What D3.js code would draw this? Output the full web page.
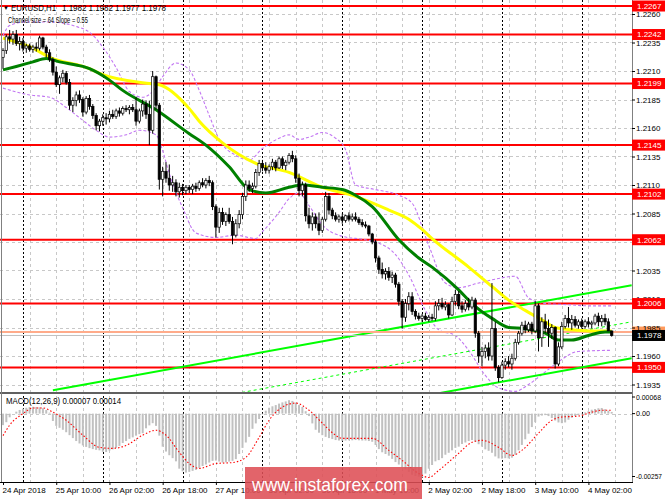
<!DOCTYPE html>
<html>
<head>
<meta charset="utf-8">
<script src="https://cdn.jsdelivr.net/npm/d3@7/dist/d3.min.js"></script>
<style>
  body { margin: 0; background: #fff; }
  svg { display: block; font-family: 'Liberation Sans', Arial, sans-serif; }
  .axis text { font-size: 8px; fill: #000; }
  .axis path { display: none; }
  .axis line { stroke: #000; }
</style>
</head>
<body>
<div class="chart"></div>
<script>
// EURUSD H1, 24 Apr 18:00 .. 4 May 09:00
// candle prices are pips above 1.1900 (322 -> 1.2222)
const BASE = 1.19;

const opens = [
  322,328,340,338,342,334,336,330,332,329,331,330,339,331,326,320,
  309,298,304,308,300,280,284,289,285,274,286,279,271,262,266,269,
  268,272,270,275,273,277,276,278,276,266,275,281,272,258,305,280,
  215,222,216,210,212,204,208,205,208,206,209,207,212,210,214,212,
  191,173,186,178,184,178,166,176,184,200,210,207,209,221,229,225,
  223,226,230,225,233,227,230,236,233,216,205,210,183,176,182,176,
  170,180,200,188,183,180,182,179,183,180,182,180,177,175,174,167,
  160,146,136,132,134,129,131,123,108,94,106,112,99,95,93,95,
  92,94,93,104,106,103,105,96,108,114,104,101,106,103,109,80,
  60,64,67,60,84,50,41,52,55,53,58,72,80,87,83,88,
  82,104,76,90,84,80,85,53,68,86,93,89,92,87,90,86,
  90,88,89,95,90,93,90,82
];
const highs = [
  330,342,346,345,346,340,339,334,334,333,335,341,340,333,329,322,
  314,306,311,310,303,287,292,293,287,288,289,281,273,268,272,273,
  275,276,277,278,279,280,280,281,287,277,285,284,284,310,306,282,
  226,230,228,218,215,212,211,210,210,211,212,214,216,216,218,214,
  193,190,190,186,190,182,180,188,203,214,214,212,224,232,232,230,
  228,233,232,235,235,232,238,240,236,220,213,212,190,186,185,186,
  182,204,203,190,186,184,185,184,186,185,186,182,180,178,175,168,
  162,148,142,137,138,134,133,125,110,110,116,116,101,98,97,98,
  96,97,108,110,111,108,106,112,118,117,108,109,111,112,111,82,
  68,70,72,124,90,52,55,58,60,62,75,82,90,91,90,90,
  108,106,94,97,92,88,86,72,90,96,103,96,95,92,93,92,
  94,91,97,98,96,97,93,82
];
const lows = [
  312,325,334,333,332,328,327,326,327,326,327,328,329,322,318,306,
  296,290,300,298,276,274,279,282,270,272,276,268,258,257,262,263,
  265,268,268,270,271,274,272,274,262,264,270,268,245,255,276,206,
  200,212,205,204,200,199,201,202,203,202,204,205,208,207,209,188,
  164,168,175,174,176,158,164,172,180,196,204,203,207,218,222,220,
  220,223,222,224,224,223,228,230,212,200,200,178,172,170,172,166,
  168,178,184,180,178,177,176,177,178,178,178,175,173,172,165,158,
  142,132,128,127,126,124,120,104,84,90,100,96,92,91,90,91,
  90,91,91,100,101,100,93,95,104,101,98,99,100,101,76,54,
  51,58,56,56,47,37,40,48,50,48,56,70,78,80,81,79,
  80,64,68,80,68,75,49,51,66,84,85,83,85,84,84,84,
  85,84,87,86,86,87,82,77
];
const closes = [
  328,340,338,342,334,336,330,332,329,331,330,339,331,326,320,309,
  298,304,308,300,280,284,289,285,274,286,279,271,262,266,269,268,
  272,270,275,273,277,276,278,276,266,275,281,272,258,305,280,215,
  222,216,210,212,204,208,205,208,206,209,207,212,210,214,212,191,
  173,186,178,184,178,166,176,184,200,210,207,209,221,229,225,223,
  226,230,225,233,227,230,236,233,216,205,210,183,176,182,176,170,
  180,200,188,183,180,182,179,183,180,182,180,177,175,174,167,160,
  146,136,132,134,129,131,123,108,94,106,112,99,95,93,95,92,
  94,93,104,106,103,105,96,108,114,104,101,106,103,109,80,60,
  64,67,60,84,50,41,52,55,53,58,72,80,87,83,88,82,
  104,76,90,84,80,85,53,68,86,93,89,92,87,90,86,90,
  88,89,95,90,93,90,82,78
];

// indicator lines: [bar, pips above 1.1900]
const maYellow = [[0,339],[9,330],[14,322],[24,314],[26,312],[29,308],[44,299],[47,298],[56,277],[59,266],
  [66,247],[76,229],[86,221],[96,208],[106,200],[116,188],[122,180],[126,171],[129,163],[140,138],
  [147,121],[152,109],[157,100],[163,90],[166,85],[171,83],[176,82],[183,82]];
const maGreen = [[0,311],[4,314],[9,318],[13,321],[17,318],[24,314],[26,312],[32,302],[36,293],[46,276],
  [56,255],[61,245],[68,226],[74,206],[79,203],[86,208],[90,210],[96,208],[102,206],[106,201],
  [111,191],[119,162],[125,146],[129,138],[137,118],[141,106],[147,93],[152,85],[157,84],[163,80],
  [167,74],[171,74],[176,78],[181,81],[183,81]];
const bandUpper = [[0,341],[2,350],[7,353],[14,353],[22,349],[26,344],[30,331],[34,313],[38,292],[42,287],
  [45,292],[48,305],[52,317],[56,311],[59,293],[62,271],[65,250],[70,236],[74,232],[78,242],
  [83,251],[86,254],[89,250],[92,252],[96,256],[100,251],[103,241],[106,210],[112,206],[119,201],
  [123,194],[128,157],[133,124],[137,120],[143,124],[149,128],[154,130],[158,111],[163,106],[170,105],
  [176,104],[183,104]];
const bandLower = [[0,295],[8,289],[14,287],[19,278],[23,269],[28,258],[32,252],[37,254],[41,258],[46,254],
  [48,240],[50,220],[54,190],[58,168],[64,164],[70,166],[76,163],[78,169],[83,186],[86,198],
  [89,203],[92,192],[96,175],[102,165],[109,162],[113,159],[118,149],[122,131],[127,100],[131,83],
  [136,78],[140,65],[145,43],[149,32],[154,29],[158,35],[163,46],[167,55],[173,64],[183,65]];

// linear regression channel
const channelBars = [15, 189];
const channelMid = [1.1898, 1.1990];
const channelHalf = 0.0032;

const levels = [1.2267, 1.2242, 1.2199, 1.2145, 1.2102, 1.2062, 1.2006, 1.1950];
const bidPrice = 1.1978;
const askPrice = 1.1981;
const priceTicks = [1.2260, 1.2235, 1.2210, 1.2185, 1.2160, 1.2135, 1.2110, 1.2085,
  1.2060, 1.2035, 1.2010, 1.1985, 1.1960, 1.1935];

const timeTickBars = [0, 16, 32, 48, 64, 80, 96, 112, 128, 144, 160, 176];
const timeLabels = ["24 Apr 2018", "25 Apr 10:00", "26 Apr 02:00", "26 Apr 18:00", "27 Apr 10:00",
  "30 Apr 02:00", "30 Apr 18:00", "1 May 10:00", "2 May 02:00", "2 May 18:00", "3 May 10:00", "4 May 02:00"];
const daySepBars = [6, 30, 54, 78, 102, 126, 150, 174];

// MACD(12,26,9), units of 0.00001
const macdHist = [
  -47,-35,-15,0,8,15,20,24,27,28,27,26,22,15,4,-30,
  -50,-58,-66,-76,-88,-100,-112,-122,-130,-136,-141,-145,-148,-150,-156,-157,
  -151,-146,-140,-132,-120,-112,-103,-97,-90,-84,-80,-60,-48,-39,-50,-90,
  -135,-155,-170,-182,-195,-225,-236,-241,-238,-234,-230,-222,-214,-208,-200,-193,
  -192,-196,-200,-199,-196,-193,-186,-165,-140,-118,-95,-62,-40,-22,-3,12,
  24,30,35,41,46,50,55,52,45,35,27,10,-10,-40,-66,-78,
  -88,-95,-100,-104,-108,-110,-111,-110,-109,-109,-108,-109,-110,-110,-112,-115,
  -128,-145,-158,-165,-172,-185,-198,-208,-220,-228,-238,-250,-255,-258,-261,-245,
  -225,-210,-195,-190,-182,-168,-160,-150,-140,-135,-124,-118,-112,-108,-115,-125,
  -135,-146,-152,-160,-175,-183,-184,-182,-183,-180,-168,-150,-128,-105,-82,-55,
  -35,-12,-8,-6,-10,-18,-28,-36,-39,-36,-25,-17,-10,-6,-3,5,
  10,16,19,22,23,18,12,7
];
const macdSignal = [[0,-90],[2,-47],[6,0],[9,23],[12,23],[15,6],[19,-27],[24,-88],[29,-138],[33,-142],
  [37,-130],[42,-88],[46,-68],[49,-88],[53,-158],[56,-204],[59,-224],[64,-204],[69,-200],[73,-179],
  [77,-97],[80,-27],[84,27],[88,43],[92,14],[96,-39],[99,-78],[102,-101],[111,-101],[116,-150],
  [120,-191],[125,-245],[128,-261],[131,-232],[137,-162],[141,-117],[144,-109],[149,-138],[153,-171],[156,-150],
  [161,-80],[165,-27],[168,-14],[173,-10],[177,6],[180,14],[183,14]];
const macdLabels = [0.00068, 0, -0.00257];

// layout
const W = 665, H = 499;
const plotR = 632;
const priceBottom = 392, macdTop = 394, macdBottom = 482;

const px = v => BASE + v / 10000;

const x = d3.scaleLinear().domain([0, 183]).range([3, 611.7]);
const y = d3.scaleLinear().domain([1.1935, 1.2260]).range([384.5, 14]);
const yM = d3.scaleLinear().domain([-0.00257, 0.00068]).range([476.5, 397]);

const svg = d3.select('.chart').append('svg')
  .attr('width', W).attr('height', H);

const defs = svg.append('defs');
defs.append('clipPath').attr('id', 'clipP').append('rect')
  .attr('x', 0).attr('y', 0).attr('width', plotR).attr('height', priceBottom);
defs.append('clipPath').attr('id', 'clipM').append('rect')
  .attr('x', 0).attr('y', macdTop).attr('width', plotR).attr('height', macdBottom - macdTop);

svg.append('rect').attr('width', W).attr('height', H).attr('fill', '#fff');

// grid
const grid = svg.append('g').attr('stroke', '#c8c8c8').attr('stroke-dasharray', '3,3')
  .attr('shape-rendering', 'crispEdges');
grid.selectAll('.hg').data(priceTicks).enter().append('line')
  .attr('x1', 0).attr('x2', plotR)
  .attr('y1', d => Math.round(y(d)) + 0.5).attr('y2', d => Math.round(y(d)) + 0.5);
const gridBars = d3.range(8, 185, 8);
grid.selectAll('.vg').data(gridBars).enter().append('line')
  .attr('x1', d => Math.round(x(d)) + 0.5).attr('x2', d => Math.round(x(d)) + 0.5)
  .attr('y1', 0).attr('y2', macdBottom);
grid.append('line').attr('x1', 0).attr('x2', plotR)
  .attr('y1', Math.round(yM(0)) + 0.5).attr('y2', Math.round(yM(0)) + 0.5);

// day separators
svg.append('g').selectAll('line').data(daySepBars).enter().append('line')
  .attr('x1', d => Math.round(x(d)) + 0.5).attr('x2', d => Math.round(x(d)) + 0.5)
  .attr('y1', 0).attr('y2', macdBottom)
  .attr('stroke', '#000').attr('stroke-dasharray', '2,2').attr('shape-rendering', 'crispEdges');

const price = svg.append('g').attr('clip-path', 'url(#clipP)');

// support / resistance levels
price.selectAll('.lvl').data(levels).enter().append('line')
  .attr('x1', 0).attr('x2', plotR)
  .attr('y1', d => y(d)).attr('y2', d => y(d))
  .attr('stroke', '#ff0000').attr('stroke-width', 2);

// bollinger-like bands
const lineP = d3.line().x(d => x(d[0])).y(d => y(px(d[1]))).curve(d3.curveMonotoneX);
[bandUpper, bandLower].forEach(b => {
  price.append('path').attr('d', lineP(b)).attr('fill', 'none')
    .attr('stroke', '#c277f2').attr('stroke-width', 1.1).attr('stroke-dasharray', '3,2');
});

// regression channel
[channelHalf, 0, -channelHalf].forEach(off => {
  price.append('line')
    .attr('x1', x(channelBars[0])).attr('x2', x(channelBars[1]))
    .attr('y1', y(channelMid[0] + off)).attr('y2', y(channelMid[1] + off))
    .attr('stroke', '#00ff00')
    .attr('stroke-width', off === 0 ? 1 : 2)
    .attr('stroke-dasharray', off === 0 ? '3,3' : null);
});

// bid / ask lines
price.append('line').attr('x1', 0).attr('x2', plotR)
  .attr('y1', y(askPrice)).attr('y2', y(askPrice))
  .attr('stroke', '#ffab8a').attr('stroke-width', 2);
price.append('line').attr('x1', 0).attr('x2', plotR)
  .attr('y1', y(bidPrice)).attr('y2', y(bidPrice))
  .attr('stroke', '#c0c0c0').attr('stroke-width', 1);

// moving averages
price.append('path').attr('d', lineP(maYellow)).attr('fill', 'none')
  .attr('stroke', '#ffff00').attr('stroke-width', 3);
price.append('path').attr('d', lineP(maGreen)).attr('fill', 'none')
  .attr('stroke', '#008000').attr('stroke-width', 3);

// candles
const bars = closes.map((c, i) => ({
  i, o: px(opens[i]), h: px(highs[i]), l: px(lows[i]), c: px(c)
}));
const cg = price.append('g');
cg.selectAll('line').data(bars).enter().append('line')
  .attr('x1', d => x(d.i)).attr('x2', d => x(d.i))
  .attr('y1', d => y(d.h)).attr('y2', d => y(d.l))
  .attr('stroke', '#000').attr('stroke-width', 1);
cg.selectAll('rect').data(bars).enter().append('rect')
  .attr('x', d => x(d.i) - 1.2).attr('width', 2.4)
  .attr('y', d => y(Math.max(d.o, d.c)))
  .attr('height', d => Math.max(1, Math.abs(y(d.o) - y(d.c))))
  .attr('fill', d => d.c >= d.o ? '#fff' : '#000')
  .attr('stroke', '#000').attr('stroke-width', 0.7);

// MACD panel
const macd = svg.append('g').attr('clip-path', 'url(#clipM)');
macd.selectAll('rect').data(macdHist).enter().append('rect')
  .attr('x', (d, i) => x(i) - 1).attr('width', 2)
  .attr('y', d => Math.min(yM(0), yM(d / 1e5)))
  .attr('height', d => Math.abs(yM(d / 1e5) - yM(0)))
  .attr('fill', '#c0c0c0');
macd.append('path')
  .attr('d', d3.line().x(d => x(d[0])).y(d => yM(d[1] / 1e5)).curve(d3.curveMonotoneX)(macdSignal))
  .attr('fill', 'none').attr('stroke', '#ff0000').attr('stroke-width', 1.1)
  .attr('stroke-dasharray', '1.5,2');

// frame
const frame = svg.append('g').attr('shape-rendering', 'crispEdges');
frame.append('rect').attr('x', 0).attr('y', priceBottom).attr('width', plotR).attr('height', 2).attr('fill', '#606060');
frame.append('line').attr('x1', 1.5).attr('x2', 1.5).attr('y1', 0).attr('y2', macdBottom).attr('stroke', '#808080');
frame.append('line').attr('x1', plotR + 0.5).attr('x2', plotR + 0.5).attr('y1', 0).attr('y2', macdBottom).attr('stroke', '#808080');
frame.append('line').attr('x1', 0).attr('x2', plotR + 1).attr('y1', macdBottom + 0.5).attr('y2', macdBottom + 0.5).attr('stroke', '#000');

// ask label (under the axis text)
svg.append('rect').attr('x', plotR).attr('y', y(askPrice) - 5.5).attr('width', 33).attr('height', 11)
  .attr('fill', '#ff9a5c');

// price axis
svg.append('g').attr('class', 'axis')
  .attr('transform', `translate(${plotR},0)`)
  .call(d3.axisRight(y).tickValues(priceTicks).tickFormat(d3.format('.4f')).tickSize(3).tickPadding(1));

// level labels
const lab = svg.append('g');
lab.selectAll('rect').data(levels).enter().append('rect')
  .attr('x', plotR).attr('y', d => y(d) - 5.5).attr('width', 33).attr('height', 11)
  .attr('fill', '#ff0000');
lab.selectAll('text').data(levels).enter().append('text')
  .attr('x', plotR + 5).attr('y', d => y(d)).attr('dy', '0.35em')
  .attr('font-size', 8).attr('fill', '#fff')
  .text(d => d.toFixed(4));
lab.append('rect').attr('x', plotR).attr('y', y(bidPrice) - 5.5).attr('width', 33).attr('height', 11)
  .attr('fill', '#000');
lab.append('text').attr('x', plotR + 5).attr('y', y(bidPrice)).attr('dy', '0.35em')
  .attr('font-size', 8).attr('fill', '#fff').text(bidPrice.toFixed(4));

// MACD axis labels
const ml = svg.append('g');
ml.selectAll('line').data(macdLabels).enter().append('line')
  .attr('x1', plotR).attr('x2', plotR + 3)
  .attr('y1', d => yM(d)).attr('y2', d => yM(d)).attr('stroke', '#000');
ml.selectAll('text').data(macdLabels).enter().append('text')
  .attr('x', plotR + 4).attr('y', d => yM(d)).attr('dy', '0.35em')
  .attr('font-size', 7.5)
  .attr('textLength', d => d === 0 ? 14 : (d < 0 ? 26 : 25))
  .attr('lengthAdjust', 'spacingAndGlyphs')
  .text(d => d === 0 ? '0.00' : d.toFixed(5));

// time axis
const xa = svg.append('g').attr('class', 'axis')
  .attr('transform', `translate(0,${macdBottom})`)
  .call(d3.axisBottom(x).tickValues(timeTickBars).tickFormat((d, i) => timeLabels[i]).tickSize(3).tickPadding(2));
xa.selectAll('text').attr('text-anchor', 'start').attr('dx', -1);

// header texts
svg.append('text').attr('x', 3).attr('y', 10).attr('font-size', 6).text('▼');
svg.append('text').attr('x', 11).attr('y', 11).attr('font-size', 8.5)
  .attr('textLength', 45).attr('lengthAdjust', 'spacingAndGlyphs').text('EURUSD,H1');
svg.append('text').attr('x', 62).attr('y', 11).attr('font-size', 8.5)
  .attr('textLength', 104).attr('lengthAdjust', 'spacingAndGlyphs')
  .text('1.1982 1.1982 1.1977 1.1978');
svg.append('text').attr('x', 8).attr('y', 23).attr('font-size', 8.5)
  .attr('textLength', 80).attr('lengthAdjust', 'spacingAndGlyphs')
  .text('Channel size = 64 Slope = 0.55');
svg.append('text').attr('x', 6).attr('y', 404).attr('font-size', 8.5)
  .attr('textLength', 115).attr('lengthAdjust', 'spacingAndGlyphs')
  .text('MACD(12,26,9) 0.00007 0.00014');

// watermark
svg.append('rect').attr('x', 245).attr('y', 467).attr('width', 177).attr('height', 32)
  .attr('fill', '#de4f55').attr('opacity', 0.88);
svg.append('text').attr('x', 252).attr('y', 491).attr('font-size', 19).attr('fill', '#fff')
  .attr('textLength', 156).attr('lengthAdjust', 'spacingAndGlyphs')
  .text('www.instaforex.com');
</script>
</body>
</html>
